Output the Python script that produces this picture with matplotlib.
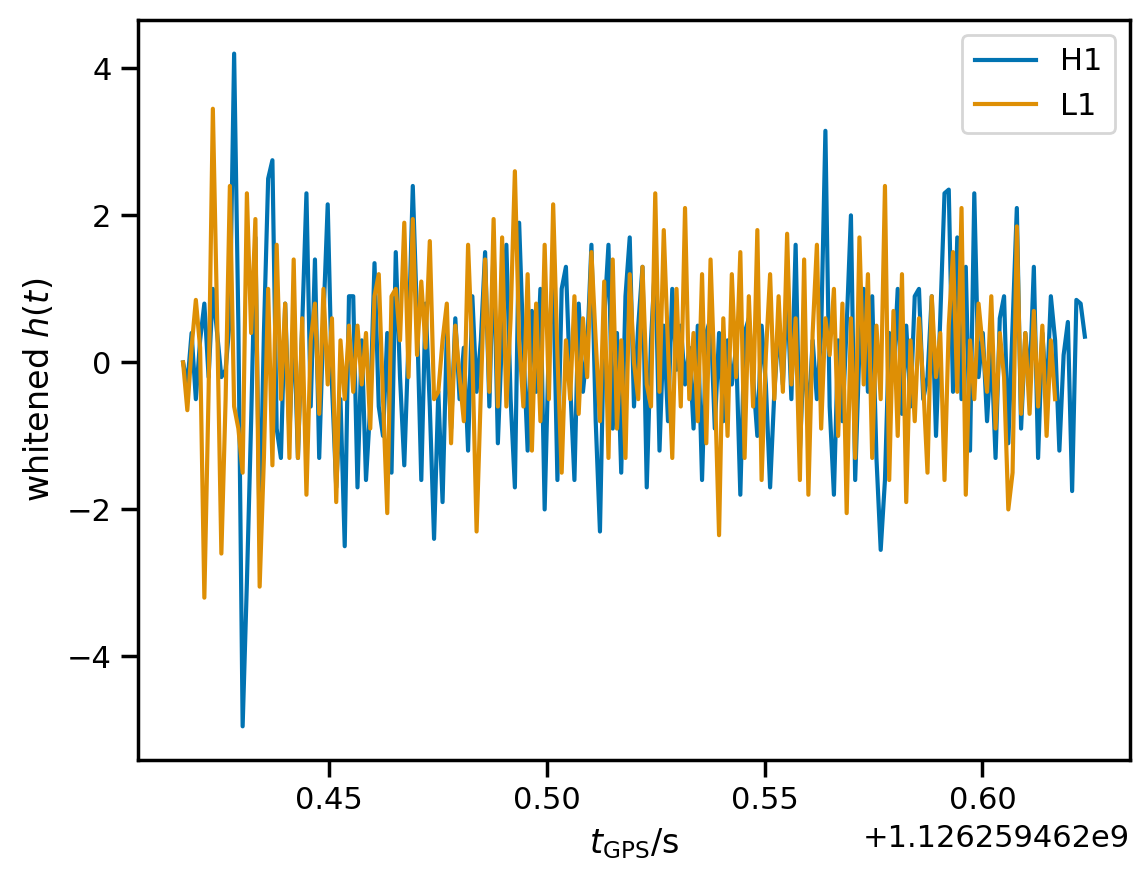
import numpy as np
import matplotlib
matplotlib.use("Agg")
import matplotlib.pyplot as plt

GPS_BASE = 1126259462.0
DT = 1.0 / 1024
H1_START = 0.4165
L1_START = 0.4165

h1_vals = [
    0.0, -0.3, 0.4, -0.5, 0.3, 0.8, -0.2, 1.0, 0.4, -0.2,
    -0.1, 0.6, 4.2, 0.5, -4.95, -3.0, -0.8, 1.7, -2.4, 0.4,
    2.5, 2.75, -0.9, -1.3, 0.8, -1.0, 0.6, -1.3, 0.5, 2.3,
    -0.6, 1.4, -1.3, 0.6, 2.15, -0.3, -1.7, -0.5, -2.5, 0.9,
    0.9, -1.7, 0.3, -1.6, -0.6, 1.35, -0.6, -1.0, 0.4, -1.5,
    1.5, -0.2, -1.4, 0.3, 2.4, 0.6, -1.6, 0.8, -0.6, -2.4,
    -0.4, -1.9, 0.4, -0.9, 0.6, -0.5, 0.2, -1.2, 0.9, -0.4,
    0.3, 1.5, -0.6, 1.6, -1.1, 0.4, 1.6, -0.5, -1.7, 1.9,
    0.2, -1.2, 0.7, -0.4, 1.0, -2.0, 0.3, 1.2, -1.6, 1.0,
    1.3, -0.3, -1.6, 0.8, -0.4, 0.2, 1.6, -0.8, -2.3, 0.6,
    1.6, -0.9, 0.4, -1.5, 0.9, 1.7, -0.6, 0.5, 1.3, -1.7,
    0.3, 1.4, -1.2, 0.5, -0.8, 1.0, -0.1, 0.5, -0.3, 0.2,
    -0.9, 0.5, -1.6, 0.4, 0.6, -0.9, 0.4, -0.8, 0.3, -0.3,
    0.2, -1.8, 0.4, 0.6, -0.2, -1.0, 0.5, -0.3, -1.7, -0.4,
    0.5, -0.3, 1.0, -0.5, 1.6, -1.2, 0.2, -0.8, 0.3, -0.5,
    0.4, 3.15, -0.6, -1.8, 0.3, -0.8, 0.5, 2.0, -1.6, 0.2,
    1.0, -0.4, 0.9, -1.3, -2.55, -1.6, 0.4, -0.2, 1.0, -0.7,
    0.5, -0.6, 0.9, 1.0, -0.5, -0.2, 0.9, -1.0, 0.6, 2.3,
    2.35, -0.4, 1.7, -0.5, 1.3, -1.2, 2.3, -0.2, 0.4, -0.8,
    0.2, -1.3, 0.6, 0.9, -1.1, 0.5, 2.1, -0.9, 0.4, -0.3,
    1.3, -1.3, 0.4, -0.5, 0.9, 0.3, -1.2, 0.1, 0.55, -1.75,
    0.85, 0.8, 0.35,
]

l1_vals = [
    0.0, -0.65, 0.2, 0.85, 0.2, -3.2, -0.4, 3.45, 0.6, -2.6,
    -0.5, 2.4, -0.6, -0.9, -1.5, 2.3, 0.4, 1.95, -3.05, -1.3,
    1.0, -1.4, 1.6, -0.5, 0.8, -1.3, 1.4, -1.3, 0.6, -1.8,
    0.3, 0.8, -0.7, 1.0, -0.3, 0.6, -1.9, 0.3, -0.5, 0.5,
    -0.4, 0.5, -0.3, 0.4, -0.9, 0.9, 1.2, -0.5, -2.05, 0.9,
    1.0, 0.3, 1.9, -0.2, 1.95, 0.1, 1.1, 0.2, 1.65, -0.5,
    -0.4, 0.3, 0.8, -1.1, 0.5, -0.2, -0.8, 1.6, 0.1, -2.3,
    -0.4, 1.4, -0.4, 1.95, -0.6, 1.7, -0.6, 0.6, 2.6, 0.3,
    -0.6, 1.2, -1.2, 0.8, -0.8, 1.6, -0.5, 2.15, 0.1, -1.5,
    0.3, -0.5, 0.9, -0.7, 0.6, -0.2, 1.5, 0.3, -0.8, 1.1,
    -1.3, 1.4, -0.9, 0.3, -1.3, 1.2, 0.0, -0.5, 1.3, -0.3,
    -0.6, 2.3, -0.4, 1.8, 0.2, -1.3, 1.0, -0.6, 2.1, -0.5,
    0.4, -0.8, 1.2, -1.1, 1.4, -0.3, -2.35, 0.6, -1.0, 1.2,
    -0.2, 1.5, -1.3, 0.9, -0.6, 1.8, -1.6, 0.1, 1.2, -0.5,
    0.9, -0.4, 1.75, -0.3, 0.6, -1.6, 1.4, -1.8, 0.4, 1.6,
    -0.9, 0.6, 0.1, 1.0, -1.0, 0.8, -2.05, 0.6, -1.3, 1.7,
    -0.3, 1.2, -1.3, 0.5, -0.5, 2.4, -1.6, 0.7, -1.0, 1.2,
    -1.9, 0.3, -0.8, 0.6, -0.3, -1.5, 0.9, -0.2, 0.4, -1.6,
    0.5, 1.5, -0.4, 2.1, -1.8, 0.3, -0.5, 0.8, 0.2, -0.4,
    0.9, -0.9, 0.4, -0.2, -2.0, -1.5, 1.85, -0.7, 0.4, -0.7,
    0.7, -0.6, 0.5, -1.0, 0.3, -0.5,
]

labels = ["H1", "L1"]
colors = ["#0173b2", "#de8f05"]

# seaborn "notebook"-like sizing
plt.rcParams.update({
    "font.family": "DejaVu Sans",
    "axes.linewidth": 1.25,
    "xtick.major.size": 6, "ytick.major.size": 6,
    "xtick.major.width": 1.25, "ytick.major.width": 1.25,
    "xtick.labelsize": 11, "ytick.labelsize": 11,
    "axes.labelsize": 12, "legend.fontsize": 11,
    "lines.linewidth": 1.5,
})

t_h1 = GPS_BASE + H1_START + DT * np.arange(len(h1_vals))
t_l1 = GPS_BASE + L1_START + DT * np.arange(len(l1_vals))

fig = plt.figure(figsize=(5.74, 4.40), dpi=200)
ax = fig.add_axes([0.1202, 0.1364, 0.8641, 0.8409])
ax.plot(t_h1, h1_vals, color=colors[0], label=labels[0])
ax.plot(t_l1, l1_vals, color=colors[1], label=labels[1])
ax.set_xlabel(r"$t_{\rm GPS}$/s")
ax.set_ylabel(r"whitened $h(t)$")
ax.legend(loc="upper right")

fig.savefig("out.png", dpi=200)
